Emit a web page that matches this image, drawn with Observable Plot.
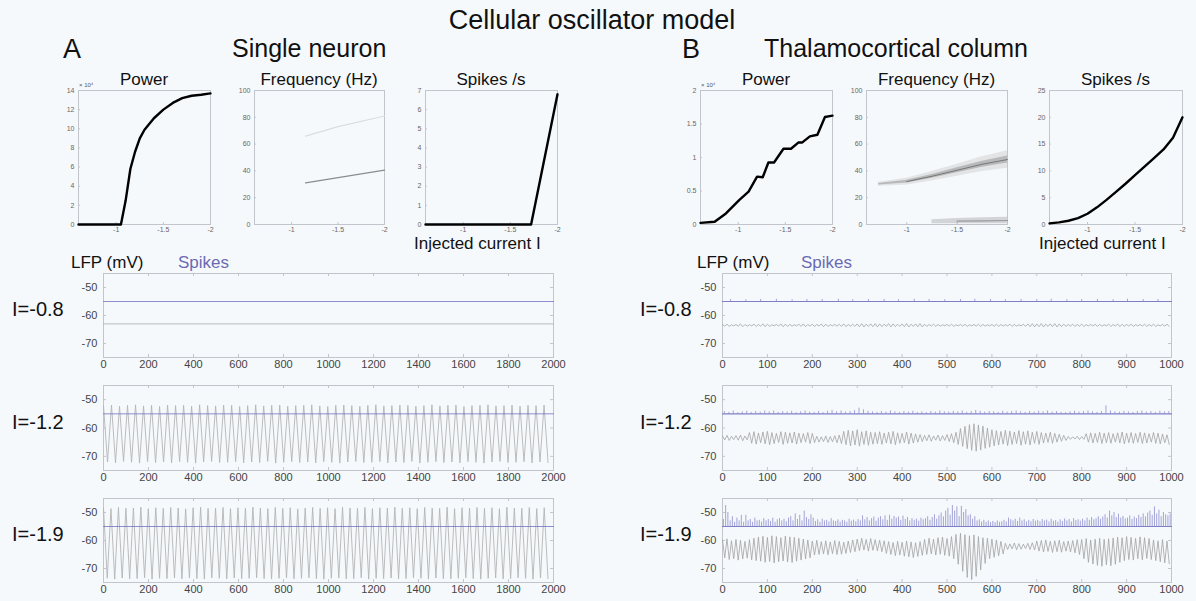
<!DOCTYPE html>
<html><head><meta charset="utf-8">
<script src="https://cdn.jsdelivr.net/npm/d3@7"></script>
<script src="https://cdn.jsdelivr.net/npm/@observablehq/plot@0.6"></script>
<style>
html,body{margin:0;padding:0;background:#f6f9fc;}
#root{position:relative;width:1196px;height:601px;overflow:hidden;font-family:"Liberation Sans",Arial,Helvetica,sans-serif;color:#111;}
.lbl{position:absolute;white-space:nowrap;line-height:1;}
</style></head><body><div id="root"></div>
<script>
// ---------------- DATA ----------------
const currentDomain = [-0.6, -2];
const currentTicks = [-1, -1.5, -2];
const powerTicksA = [0, 2, 4, 6, 8, 10, 12, 14];
const freqTicks = [0, 20, 40, 60, 80, 100];
const spikeRateTicksA = [0, 1, 2, 3, 4, 5, 6, 7];
const powerTicksB = [0, 0.5, 1, 1.5, 2];
const spikeRateTicksB = [0, 5, 10, 15, 20, 25];
const timeTicksA = [0, 200, 400, 600, 800, 1000, 1200, 1400, 1600, 1800, 2000];
const timeTicksB = [0, 100, 200, 300, 400, 500, 600, 700, 800, 900, 1000];
const lfpTicks = [-50, -60, -70];
const lfpRange = [-75, -45];
const rowLabels = ["I=-0.8", "I=-1.2", "I=-1.9"];

// Single neuron: power (x10^4) vs injected current
const powerA_I = [-0.6, -0.7, -0.8, -0.9, -1.0, -1.05, -1.1, -1.15, -1.2, -1.25, -1.3, -1.4, -1.5, -1.6, -1.7, -1.8, -1.9, -2.0];
const powerA_val = [0, 0, 0, 0, 0, 0, 2.5, 5.8, 7.6, 9.0, 9.9, 11.1, 12.0, 12.7, 13.2, 13.45, 13.55, 13.7];
// Single neuron: frequency bands (Hz)
const freqA_I = [-1.15, -1.5, -2.0];
const freqA_main = [31, 35, 40.5];
const freqA_harm = [66, 73, 81];
// Single neuron: spikes/s
const spikesA_I = [-0.6, -1.72, -2.0];
const spikesA_val = [0, 0, 6.8];

// Thalamocortical column: power (x10^4)
const powerB_I = [-0.6, -0.75, -0.87, -1.01, -1.11, -1.2, -1.26, -1.32, -1.38, -1.48, -1.56, -1.64, -1.68, -1.76, -1.84, -1.92, -2.0];
const powerB_val = [0.025, 0.04, 0.165, 0.365, 0.49, 0.715, 0.705, 0.925, 0.925, 1.13, 1.13, 1.225, 1.225, 1.315, 1.34, 1.605, 1.625];
// Thalamocortical column: spectral ridge (Hz) and its spread
const freqB_I = [-0.72, -1.0, -1.25, -1.5, -1.75, -2.0];
const freqB_peak = [30, 32, 36, 40.5, 45, 48.5];
const freqB_spread = [1.5, 2.5, 3.5, 4.5, 5.5, 6.5];
const freqBLow_I = [-1.25, -1.5, -1.75, -2.0];
const freqBLow_lo = [0.5, 0.5, 0.5, 0.5];
const freqBLow_hi = [3.5, 4.5, 5.0, 5.5];
// Thalamocortical column: spikes/s
const spikesB_I = [-0.6, -0.7, -0.8, -0.9, -1.0, -1.1, -1.2, -1.3, -1.4, -1.5, -1.6, -1.7, -1.8, -1.9, -2.0];
const spikesB_val = [0.2, 0.4, 0.7, 1.2, 2.0, 3.2, 4.6, 6.1, 7.6, 9.2, 10.8, 12.4, 14.0, 16.2, 20.0];

// Spike trace baseline (mV)
const spikeBase = -55;

// ---- Single neuron traces ----
const lfpA1_t = [0, 2000];
const lfpA1_v = [-63, -63];
const stepA2 = 17.8;
const peaksA2 = [-52.1,-51.9,-52.3,-52.0,-51.8,-52.2,-52.0,-52.4,
 -51.9,-52.1,-52.0,-52.3,-51.8,-52.1,-52.2,-51.9,
 -52.0,-52.4,-52.1,-51.8,-52.2,-52.0,-51.9,-52.3,
 -52.1,-52.0,-51.8,-52.2,-52.4,-52.0,-51.9,-52.1,
 -52.3,-52.0,-51.8,-52.2,-52.1,-51.9,-52.0,-52.3,
 -52.1,-51.8,-52.2,-52.0,-51.9,-52.4,-52.1,-52.0,
 -51.8,-52.2,-52.1,-51.9,-52.3,-52.0,-52.1,-51.9];
const troughsA2 = [-72.0,-72.3,-71.8,-72.1,-72.4,-71.9,-72.2,-72.0,
 -72.3,-71.9,-72.1,-72.4,-72.0,-71.8,-72.2,-72.1,
 -71.9,-72.3,-72.0,-72.2,-71.8,-72.4,-72.1,-71.9,
 -72.2,-72.0,-72.3,-71.9,-72.1,-72.4,-72.0,-71.8,
 -72.2,-72.1,-71.9,-72.3,-72.0,-72.2,-71.8,-72.4,
 -72.1,-71.9,-72.2,-72.0,-72.3,-71.9,-72.1,-72.4,
 -72.0,-71.8,-72.2,-72.1,-71.9,-72.3,-72.0,-72.2];
const stepA3 = 16.6;
const peaksA3 = [-48.3,-48.6,-48.2,-48.5,-48.4,-48.1,-48.6,-48.3,-48.5,-48.2,
 -48.4,-48.7,-48.3,-48.1,-48.5,-48.4,-48.2,-48.6,-48.3,-48.5,
 -48.1,-48.4,-48.6,-48.2,-48.5,-48.3,-48.7,-48.4,-48.2,-48.5,
 -48.3,-48.6,-48.1,-48.4,-48.5,-48.2,-48.6,-48.3,-48.4,-48.1,
 -48.5,-48.3,-48.6,-48.2,-48.4,-48.5,-48.1,-48.6,-48.3,-48.4,
 -48.2,-48.5,-48.3,-48.6,-48.1,-48.4,-48.5,-48.2,-48.6,-48.3];
const troughsA3 = [-73.5,-73.8,-73.4,-73.7,-73.6,-73.3,-73.8,-73.5,-73.6,-73.4,
 -73.7,-73.4,-73.6,-73.8,-73.3,-73.5,-73.7,-73.4,-73.6,-73.5,
 -73.3,-73.6,-73.8,-73.5,-73.4,-73.7,-73.5,-73.3,-73.6,-73.8,
 -73.5,-73.4,-73.7,-73.6,-73.3,-73.8,-73.5,-73.6,-73.4,-73.7,
 -73.6,-73.3,-73.5,-73.8,-73.4,-73.6,-73.7,-73.5,-73.3,-73.6,
 -73.8,-73.5,-73.4,-73.7,-73.6,-73.3,-73.5,-73.8,-73.4,-73.6];
const spikesA_t = [0, 2000];
const spikesA_v = [-55, -55];

// ---- Thalamocortical column traces (half-cycle step 5) ----
const stepB = 5;
const peaksB1 = [-63.2,-63.1,-63.3,-63.2,-63.0,-63.2,-63.3,-63.1,-63.2,-63.0,
 -63.1,-63.3,-63.2,-63.0,-63.1,-63.2,-63.3,-63.1,-63.0,-63.2,
 -63.1,-63.2,-63.0,-63.1,-63.3,-63.2,-63.1,-63.0,-63.2,-63.1,
 -63.0,-62.9,-63.1,-63.0,-62.9,-63.0,-63.1,-62.9,-63.0,-63.1,
 -63.0,-62.9,-63.1,-63.0,-62.9,-63.1,-63.2,-63.1,-63.2,-63.3,
 -63.2,-63.1,-63.3,-63.2,-63.1,-63.3,-63.2,-63.1,-63.2,-63.3,
 -63.2,-63.1,-63.2,-63.3,-63.1,-63.2,-63.3,-63.1,-63.0,-62.9,
 -63.0,-62.9,-63.1,-63.0,-62.9,-63.0,-63.1,-63.2,-63.1,-63.2,
 -63.1,-63.3,-63.2,-63.1,-63.2,-63.3,-63.1,-63.2,-63.0,-63.1,
 -63.2,-63.1,-63.3,-63.2,-63.1,-63.2,-63.1,-63.3,-63.2,-63.1];
const troughsB1 = [-63.8,-63.9,-63.7,-63.8,-64.0,-63.8,-63.7,-63.9,-63.8,-64.0,
 -63.9,-63.7,-63.8,-64.0,-63.9,-63.8,-63.7,-63.9,-64.0,-63.8,
 -63.9,-63.8,-64.0,-63.9,-63.7,-63.8,-63.9,-64.0,-63.8,-63.9,
 -64.0,-64.1,-63.9,-64.0,-64.1,-64.0,-63.9,-64.1,-64.0,-63.9,
 -64.0,-64.1,-63.9,-64.0,-64.1,-63.9,-63.8,-63.9,-63.8,-63.7,
 -63.8,-63.9,-63.7,-63.8,-63.9,-63.7,-63.8,-63.9,-63.8,-63.7,
 -63.8,-63.9,-63.8,-63.7,-63.9,-63.8,-63.7,-63.9,-64.0,-64.1,
 -64.0,-64.1,-63.9,-64.0,-64.1,-64.0,-63.9,-63.8,-63.9,-63.8,
 -63.9,-63.7,-63.8,-63.9,-63.8,-63.7,-63.9,-63.8,-64.0,-63.9,
 -63.8,-63.9,-63.7,-63.8,-63.9,-63.8,-63.9,-63.7,-63.8,-63.9];
const peaksB2 = [-62.8,-62.6,-62.9,-62.7,-62.5,-62.8,
 -61.6,-61.3,-61.8,-61.4,-61.2,-61.6,-61.9,-61.3,-61.5,-61.7,-61.4,-61.8,-62.0,-61.6,-61.9,
 -62.9,-63.1,-62.8,-63.0,-62.7,-62.5,
 -61.2,-60.8,-61.0,-60.6,-61.3,-61.0,-61.5,
 -61.6,-61.3,-61.8,-61.5,-61.2,-61.7,-61.9,-61.4,-61.8,-62.1,-62.3,
 -62.6,-62.4,-62.8,-62.5,-62.7,-62.3,-62.0,-61.5,
 -60.2,-59.4,-58.8,-58.5,-58.9,-59.3,-60.0,-60.6,
 -60.9,-61.2,-60.8,-61.1,-61.4,-60.9,-61.3,-61.0,-61.5,-61.2,
 -61.6,-61.8,-61.5,-61.9,-62.2,-62.6,
 -63.0,-63.1,-62.9,-63.0,
 -62.0,-61.7,-61.9,-61.5,-61.8,-61.6,-62.0,-61.7,-61.4,-61.8,-61.6,-61.9,-61.5,-61.7,-62.0,-61.6,-61.8,-62.1,-62.4];
const troughsB2 = [-64.2,-64.4,-64.1,-64.3,-64.5,-64.2,
 -65.4,-65.7,-65.2,-65.6,-65.9,-65.5,-65.1,-65.8,-65.4,-65.3,-65.7,-65.2,-65.0,-65.5,-65.2,
 -65.0,-64.8,-65.1,-64.9,-65.2,-65.5,
 -65.9,-66.3,-66.0,-66.4,-65.8,-66.1,-65.7,
 -65.5,-65.8,-65.3,-65.6,-65.9,-65.4,-65.2,-65.7,-65.3,-65.0,-64.8,
 -64.5,-64.7,-64.3,-64.6,-64.4,-64.8,-65.2,-65.8,
 -66.5,-67.3,-67.9,-68.2,-67.8,-67.2,-66.8,-66.3,
 -66.0,-65.7,-66.2,-65.8,-65.5,-66.1,-65.7,-66.0,-65.4,-65.8,
 -65.3,-65.1,-65.4,-65.0,-64.7,-64.4,
 -64.0,-63.9,-64.1,-64.0,
 -65.0,-65.3,-65.1,-65.5,-65.2,-65.4,-65.0,-65.3,-65.6,-65.2,-65.4,-65.1,-65.5,-65.3,-65.0,-65.4,-65.6,-65.2,-65.8];
const peaksB3 = [-59.8,-59.4,-60.1,-59.6,-59.9,-60.3,-59.7,-59.2,
 -58.8,-58.5,-58.9,-58.3,-58.6,-59.0,-58.4,-58.7,-58.9,-59.2,-59.5,-59.8,
 -60.2,-59.9,-60.4,-60.1,-60.5,-60.0,-60.3,-60.6,-60.2,-59.8,
 -59.5,-59.2,-59.6,-59.3,-59.7,-59.9,-60.1,
 -60.4,-60.7,-60.3,-60.6,-60.2,-60.5,-60.8,-60.4,
 -59.6,-59.2,-59.5,-59.0,-58.8,-59.3,-58.6,
 -57.8,-57.4,-57.9,-58.3,-58.0,-58.6,-59.0,
 -59.2,-59.5,-59.8,-60.3,
 -61.0,-61.2,-60.9,-61.1,-61.3,-61.0,-60.8,
 -60.2,-60.0,-59.8,-60.3,-60.1,-59.9,-60.4,-60.2,-60.0,-59.7,
 -59.6,-59.3,-59.8,-59.5,-59.2,-59.6,-59.4,-59.1,
 -58.8,-59.0,-58.6,-58.9,-59.2,-58.7,-59.0,-59.3,
 -59.8,-60.1,-59.7,-60.2];
const troughsB3 = [-66.2,-66.8,-66.5,-67.0,-66.6,-66.3,-66.9,-67.2,
 -67.4,-67.8,-67.5,-68.0,-67.6,-67.3,-67.7,-67.9,-67.4,-67.0,-66.6,-66.2,
 -65.2,-65.0,-64.8,-65.1,-64.7,-65.0,-64.9,-64.6,-64.3,-64.0,
 -63.6,-63.4,-63.8,-63.5,-63.7,-64.0,-64.6,
 -65.0,-65.4,-65.2,-65.6,-65.8,-66.1,-65.7,-65.3,
 -65.0,-64.8,-65.2,-64.9,-65.3,-65.6,-66.5,
 -68.5,-71.0,-73.2,-74.0,-72.8,-70.5,-68.2,
 -66.5,-66.0,-65.5,-64.8,
 -63.2,-63.0,-63.3,-63.1,-62.9,-63.2,-63.4,
 -63.8,-64.1,-63.9,-64.3,-64.0,-64.2,-63.8,-64.1,-64.4,-65.0,
 -66.5,-67.8,-68.4,-68.9,-69.2,-68.7,-69.0,-68.5,
 -67.8,-67.2,-66.8,-67.0,-66.5,-66.9,-66.4,-66.8,
 -67.2,-67.6,-68.0,-68.3];

// Spike tips (mV) of the thalamocortical spike traces
const spikesB1_t = [18, 52, 85, 120, 155, 188, 222, 258, 290, 325, 360, 392, 427, 460, 495, 530, 562, 597, 630, 665, 700, 732, 767, 800, 835, 870, 902, 937, 970];
const spikesB1_tip = [-54.3,-54.4,-54.3,-54.2,-54.4,-54.3,-54.3,-54.2,-54.4,-54.3,-54.3,-54.4,-54.2,-54.3,-54.4,-54.3,-54.2,-54.3,-54.4,-54.3,-54.3,-54.2,-54.4,-54.3,-54.3,-54.4,-54.2,-54.3,-54.3];
const spikeStepB2 = 10;
const spikesB2_tip = [-54.2,-54.5,-54.0,-54.6,-54.3,-54.1,-54.5,-54.2,-54.4,-54.0,
 -54.3,-54.0,-54.5,-54.2,-54.4,-54.1,-54.6,-54.3,-54.0,-54.4,
 -54.5,-54.2,-54.6,-54.1,-53.8,-54.3,-54.0,-54.4,-54.2,-53.9,
 -53.0,-53.6,-54.1,-54.3,-54.5,-54.2,-54.4,-54.0,-54.3,-54.5,
 -54.2,-54.4,-54.1,-54.5,-54.3,-54.6,-54.2,-54.4,-54.0,-54.3,
 -54.4,-54.1,-54.3,-54.0,-54.5,-54.2,-53.8,-54.1,-54.4,-54.2,
 -54.3,-54.5,-54.1,-54.4,-54.2,-54.0,-54.3,-54.5,-54.2,-54.4,
 -54.1,-54.3,-54.0,-54.4,-54.2,-54.5,-54.6,-54.3,-54.1,-54.4,
 -54.2,-54.0,-54.3,-54.5,-54.2,-52.2,-54.0,-54.3,-54.4,-54.1,
 -54.3,-54.5,-54.2,-54.0,-54.4,-54.2,-54.5,-54.1,-54.3,-54.2];
const spikeStepB3 = 5;
const spikesB3_tip = [-52.5,-47.5,-50.0,-53.0,-51.5,-53.5,-52.0,-53.0,-51.0,-53.5,
 -51.0,-53.0,-52.5,-53.5,-52.0,-53.0,-52.8,-53.4,-52.2,-53.0,
 -52.5,-53.2,-52.0,-53.5,-52.6,-52.2,-53.0,-52.4,-53.3,-52.0,
 -51.5,-53.0,-50.5,-52.5,-51.0,-53.0,-49.5,-51.8,-52.5,-50.8,
 -52.0,-53.2,-52.6,-53.5,-52.4,-53.0,-52.8,-53.4,-52.2,-53.0,
 -53.2,-52.6,-53.4,-52.8,-53.0,-53.5,-52.4,-53.1,-52.7,-53.3,
 -52.5,-53.0,-51.2,-52.6,-51.8,-53.0,-52.2,-51.6,-53.1,-52.0,
 -51.5,-52.6,-51.2,-52.8,-51.0,-52.4,-51.4,-52.0,-51.6,-52.8,
 -51.3,-52.5,-51.8,-53.0,-52.2,-52.8,-52.4,-53.1,-52.0,-52.6,
 -52.2,-51.5,-52.8,-51.8,-50.8,-52.4,-51.2,-50.2,-51.6,-49.5,
 -48.5,-51.0,-47.5,-49.5,-48.0,-51.5,-47.8,-50.0,-49.0,-51.2,
 -50.8,-52.4,-51.5,-53.0,-52.6,-53.4,-52.8,-53.5,-53.0,-53.6,
 -53.2,-53.6,-53.0,-53.5,-53.3,-52.8,-53.4,-52.0,-52.6,-53.0,
 -52.4,-53.2,-52.0,-53.0,-52.6,-53.4,-52.8,-53.3,-52.5,-53.1,
 -52.8,-53.3,-52.5,-53.0,-52.7,-53.4,-52.4,-53.1,-52.9,-53.5,
 -52.6,-53.2,-52.3,-53.0,-52.5,-53.4,-52.2,-52.9,-52.6,-53.1,
 -52.4,-53.0,-52.0,-52.8,-51.8,-52.6,-52.2,-51.5,-52.4,-51.6,
 -50.8,-52.0,-49.5,-51.2,-50.0,-51.8,-50.6,-52.0,-51.4,-52.3,
 -52.0,-51.2,-52.5,-51.6,-52.2,-51.0,-51.8,-50.5,-51.6,-50.2,
 -49.5,-51.0,-48.0,-50.5,-49.2,-51.5,-50.0,-50.8,-51.2,-50.5];

// ---------------- HELPERS ----------------
const FONT = '"Liberation Sans", Arial, Helvetica, sans-serif';
const FRAME = "#c2c6cc";
const LFP_A = "#b4b4b4";
const LFP_B = "#a2a2a2";
const SPIKE = "#6a6ac0";
const root = document.getElementById("root");

function place(node, x, y) {
  node.style.position = "absolute";
  node.style.left = x + "px";
  node.style.top = y + "px";
  root.appendChild(node);
}
function label(text, x, y, size, opts = {}) {
  const d = document.createElement("div");
  d.className = "lbl";
  d.textContent = text;
  d.style.fontSize = size + "px";
  d.style.left = x + "px";
  d.style.top = y + "px";
  d.style.transform = opts.center ? "translate(-50%,-50%)" : "translate(0,-50%)";
  if (opts.color) d.style.color = opts.color;
  root.appendChild(d);
}
const zip = (xs, ys) => xs.map((x, i) => ({x, y: ys[i]}));
function interleave(peaks, troughs, step) {
  const out = [];
  peaks.forEach((p, k) => {
    out.push({t: 2 * k * step, v: p});
    out.push({t: (2 * k + 1) * step, v: troughs[k]});
  });
  return out;
}
const fmt = d => String(d);

function topPanel(o) {
  const mL = 28, mR = 8, mT = 4, mB = 14;
  const svg = Plot.plot({
    width: o.w + mL + mR, height: o.h + mT + mB,
    marginLeft: mL, marginRight: mR, marginTop: mT, marginBottom: mB,
    style: {background: "transparent", fontFamily: FONT, fontSize: "7px", color: "#666", overflow: "visible"},
    x: {domain: currentDomain},
    y: {domain: o.yDomain},
    marks: [
      Plot.frame({stroke: FRAME}),
      Plot.tickX(currentTicks, {x: d => d, stroke: FRAME, insetTop: o.h - 2}),
      Plot.tickY(o.yTicks, {y: d => d, stroke: FRAME, insetRight: o.w - 2}),
      Plot.axisX({ticks: currentTicks, tickFormat: fmt, tickSize: 0, tickPadding: 3, label: null}),
      Plot.axisY({ticks: o.yTicks, tickFormat: fmt, tickSize: 0, tickPadding: 4, label: null}),
      ...o.marks
    ]
  });
  place(svg, o.x - mL, o.y - mT);
}

function tsPanel(o) {
  const mL = 36, mR = 20, mT = 2, mB = 18;
  const svg = Plot.plot({
    width: o.w + mL + mR, height: o.h + mT + mB,
    marginLeft: mL, marginRight: mR, marginTop: mT, marginBottom: mB,
    style: {background: "transparent", fontFamily: FONT, fontSize: "11px", color: "#444", overflow: "visible"},
    x: {domain: [0, o.ticks[o.ticks.length - 1]]},
    y: {domain: lfpRange},
    marks: [
      Plot.frame({stroke: FRAME}),
      Plot.tickX(o.ticks, {x: d => d, stroke: FRAME, insetBottom: o.h - 3}),
      Plot.tickX(o.ticks, {x: d => d, stroke: FRAME, insetTop: o.h - 3}),
      Plot.tickY(lfpTicks, {y: d => d, stroke: FRAME, insetRight: o.w - 3}),
      Plot.tickY(lfpTicks, {y: d => d, stroke: FRAME, insetLeft: o.w - 3}),
      Plot.axisX({ticks: o.ticks, tickFormat: fmt, tickSize: 0, tickPadding: 3, label: null}),
      Plot.axisY({ticks: lfpTicks, tickFormat: fmt, tickSize: 0, tickPadding: 6, label: null}),
      ...o.marks
    ]
  });
  place(svg, o.x - mL, o.y - mT);
}

// ---------------- LAYOUT ----------------
const TOP_Y = 90, TOP_H = 134;
const panelsA = [{x: 78, w: 132}, {x: 254, w: 130}, {x: 425, w: 132}];
const panelsB = [{x: 700, w: 132}, {x: 866, w: 141}, {x: 1049, w: 133}];
const tsA = {x: 103, w: 450};
const tsB = {x: 722, w: 449};
const rowsY = [[273, 84], [385, 85], [498, 84]];

// ---------------- TEXT ----------------
label("Cellular oscillator model", 592, 20, 27, {center: true});
label("A", 63, 49, 27);
label("Single neuron", 232, 48, 25);
label("B", 682, 49, 27);
label("Thalamocortical column", 764, 48, 25);

const titles = ["Power", "Frequency (Hz)", "Spikes /s"];
titles.forEach((t, i) => {
  label(t, panelsA[i].x + panelsA[i].w / 2, 79, 17, {center: true});
  label(t, panelsB[i].x + panelsB[i].w / 2, 79, 17, {center: true});
});
label("Injected current I", 414, 243, 17);
label("Injected current I", 1039, 243, 17);
label("\u00d7 10\u2074", 79, 85, 6, {color: "#555"});
label("\u00d7 10\u2074", 701, 85, 6, {color: "#555"});

label("LFP (mV)", 71, 262, 17);
label("Spikes", 178, 262, 17, {color: "#6a6ab4"});
label("LFP (mV)", 697, 262, 17);
label("Spikes", 801, 262, 17, {color: "#6a6ab4"});

rowLabels.forEach((t, i) => {
  const cy = rowsY[i][0] + rowsY[i][1] / 2 - 6;
  label(t, 12, cy, 20);
  label(t, 640, cy, 20);
});

// ---------------- TOP PANELS ----------------
const topOpts = (p, extra) => Object.assign({x: p.x, w: p.w, y: TOP_Y, h: TOP_H}, extra);
topPanel(topOpts(panelsA[0], {yDomain: [0, 14], yTicks: powerTicksA, marks: [
  Plot.line(zip(powerA_I, powerA_val), {x: "x", y: "y", stroke: "#000", strokeWidth: 2.4})
]}));
topPanel(topOpts(panelsA[1], {yDomain: [0, 100], yTicks: freqTicks, marks: [
  Plot.line(zip(freqA_I, freqA_harm), {x: "x", y: "y", stroke: "#dcdcdc", strokeWidth: 1.2}),
  Plot.line(zip(freqA_I, freqA_main), {x: "x", y: "y", stroke: "#8c8c8c", strokeWidth: 1.3})
]}));
topPanel(topOpts(panelsA[2], {yDomain: [0, 7], yTicks: spikeRateTicksA, marks: [
  Plot.line(zip(spikesA_I, spikesA_val), {x: "x", y: "y", stroke: "#000", strokeWidth: 2.4})
]}));

const bandB = freqB_I.map((x, i) => ({x, f: freqB_peak[i], s: freqB_spread[i]}));
const lowB = freqBLow_I.map((x, i) => ({x, lo: freqBLow_lo[i], hi: freqBLow_hi[i]}));
topPanel(topOpts(panelsB[0], {yDomain: [0, 2], yTicks: powerTicksB, marks: [
  Plot.line(zip(powerB_I, powerB_val), {x: "x", y: "y", stroke: "#000", strokeWidth: 2.4})
]}));
topPanel(topOpts(panelsB[1], {yDomain: [0, 100], yTicks: freqTicks, marks: [
  Plot.areaY(bandB, {x: "x", y1: d => d.f - d.s, y2: d => d.f + d.s, fill: "#9a9a9a", fillOpacity: 0.22}),
  Plot.areaY(bandB, {x: "x", y1: d => d.f - d.s * 0.4, y2: d => d.f + d.s * 0.4, fill: "#555", fillOpacity: 0.3}),
  Plot.line(bandB.slice(1), {x: "x", y: "f", stroke: "#333", strokeWidth: 1, strokeOpacity: 0.5}),
  Plot.areaY(lowB, {x: "x", y1: "lo", y2: "hi", fill: "#777", fillOpacity: 0.28}),
  Plot.line(lowB.slice(1), {x: "x", y: d => (d.lo + d.hi) / 2, stroke: "#555", strokeWidth: 1.2, strokeOpacity: 0.45})
]}));
topPanel(topOpts(panelsB[2], {yDomain: [0, 25], yTicks: spikeRateTicksB, marks: [
  Plot.line(zip(spikesB_I, spikesB_val), {x: "x", y: "y", stroke: "#000", strokeWidth: 2.4})
]}));

// ---------------- TIME SERIES ----------------
const spikeLineA = lfpLine => [
  Plot.line(lfpLine, {x: "t", y: "v", stroke: LFP_A, strokeWidth: 0.9}),
  Plot.line(zip(spikesA_t, spikesA_v), {x: "x", y: "y", stroke: SPIKE, strokeWidth: 1, strokeOpacity: 0.75})
];
tsPanel({x: tsA.x, y: rowsY[0][0], w: tsA.w, h: rowsY[0][1], ticks: timeTicksA,
  marks: spikeLineA(zip(lfpA1_t, lfpA1_v).map(d => ({t: d.x, v: d.y})))});
tsPanel({x: tsA.x, y: rowsY[1][0], w: tsA.w, h: rowsY[1][1], ticks: timeTicksA,
  marks: spikeLineA(interleave(peaksA2, troughsA2, stepA2))});
tsPanel({x: tsA.x, y: rowsY[2][0], w: tsA.w, h: rowsY[2][1], ticks: timeTicksA,
  marks: spikeLineA(interleave(peaksA3, troughsA3, stepA3))});

const baseB = [{t: 0, v: spikeBase}, {t: 1000, v: spikeBase}];
function spikeMarksB(times, tips) {
  const data = tips.map((v, i) => ({t: times[i], v}));
  return [
    Plot.line(baseB, {x: "t", y: "v", stroke: SPIKE, strokeWidth: 1.2, strokeOpacity: 0.85}),
    Plot.ruleX(data, {x: "t", y1: spikeBase, y2: "v", stroke: SPIKE, strokeWidth: 0.8, strokeOpacity: 0.75})
  ];
}
tsPanel({x: tsB.x, y: rowsY[0][0], w: tsB.w, h: rowsY[0][1], ticks: timeTicksB, marks: [
  Plot.line(interleave(peaksB1, troughsB1, stepB), {x: "t", y: "v", stroke: LFP_B, strokeWidth: 0.8}),
  ...spikeMarksB(spikesB1_t, spikesB1_tip)
]});
tsPanel({x: tsB.x, y: rowsY[1][0], w: tsB.w, h: rowsY[1][1], ticks: timeTicksB, marks: [
  Plot.line(interleave(peaksB2, troughsB2, stepB), {x: "t", y: "v", stroke: LFP_B, strokeWidth: 0.8}),
  ...spikeMarksB(spikesB2_tip.map((_, i) => i * spikeStepB2 + 4), spikesB2_tip)
]});
tsPanel({x: tsB.x, y: rowsY[2][0], w: tsB.w, h: rowsY[2][1], ticks: timeTicksB, marks: [
  Plot.line(interleave(peaksB3, troughsB3, stepB), {x: "t", y: "v", stroke: LFP_B, strokeWidth: 0.8}),
  ...spikeMarksB(spikesB3_tip.map((_, i) => i * spikeStepB3 + 2), spikesB3_tip)
]});
</script></body></html>
